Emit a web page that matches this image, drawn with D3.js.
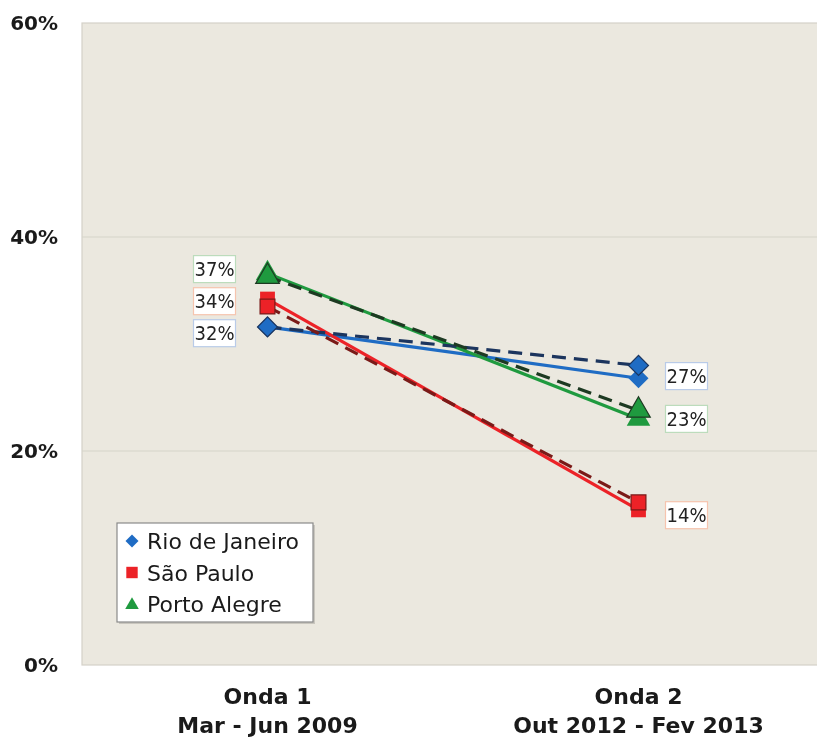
<!DOCTYPE html>
<html><head><meta charset="utf-8">
<script src="https://cdn.jsdelivr.net/npm/d3@7"></script>
<style>html,body{margin:0;padding:0;background:#fff;overflow:hidden;width:817px;height:740px}svg{display:block;position:fixed;left:0;top:0;overflow:visible}</style>
</head><body>
<svg id="c" width="817" height="740"></svg>
<script>
const categories = ["Onda 1", "Onda 2"];
const categorySub = ["Mar - Jun 2009", "Out 2012 - Fev 2013"];
const seriesNames = ["Rio de Janeiro", "São Paulo", "Porto Alegre"];
const rioSolid = [31.6, 26.8];
const rioDashed = [31.6, 28.0];
const spSolid = [34.2, 14.5];
const spDashed = [33.5, 15.2];
const paSolid = [36.6, 23.0];
const paDashed = [36.3, 23.8];
const labelsOnda1 = [37, 34, 32];
const labelsOnda2 = [27, 23, 14];
const yTicks = [0, 20, 40, 60];

const colors = ["#1f6cc4", "#ec2227", "#1f9a3f"];
const darkColors = ["#1c355e", "#7a1a18", "#1d3a22"];
const labelBorders = ["#b9cbe8", "#f6c4ae", "#bcdcbc"];
const shapes = ["diamond", "square", "triangle"];

function symbolPath(kind, size) {
  if (kind === "triangle") return d3.symbol(d3.symbolTriangle, size)();
  return d3.symbol(d3.symbolSquare, size)();
}
function symbolRot(kind) { return kind === "diamond" ? " rotate(45)" : ""; }

const svg = d3.select("#c");
const m = {left: 82, top: 23, bottom: 665};
const plotW = 742;
const x = d3.scaleBand().domain(categories).range([m.left, m.left + plotW]);
const y = d3.scaleLinear().domain([0, 60]).range([m.bottom, m.top]);
const cx = c => x(c) + x.bandwidth() / 2;

svg.append("rect").attr("x", m.left).attr("y", m.top).attr("width", plotW)
  .attr("height", m.bottom - m.top).attr("fill", "#ebe8df").attr("stroke", "#d4d1c8").attr("stroke-width", 1.2);

svg.append("g").selectAll("line").data(yTicks.filter(t => t > 0 && t < 60)).join("line")
  .attr("x1", m.left).attr("x2", m.left + plotW)
  .attr("y1", d => y(d)).attr("y2", d => y(d))
  .attr("stroke", "#d6d3ca").attr("stroke-width", 1.2);

const yAxis = d3.axisLeft(y).tickValues(yTicks).tickFormat(d => d + "%").tickSize(0).tickPadding(24);
const ya = svg.append("g").attr("transform", `translate(${m.left},0)`).call(yAxis);
ya.select(".domain").remove();
ya.selectAll("text").attr("font-family", "DejaVu Sans").attr("font-weight", "bold")
  .attr("font-size", 20).attr("fill", "#1a1a1a");

const xa = svg.append("g");
categories.forEach((c, i) => {
  const t = xa.append("text").attr("x", cx(c)).attr("text-anchor", "middle")
    .attr("font-family", "DejaVu Sans").attr("font-weight", "bold").attr("font-size", 22).attr("fill", "#1a1a1a");
  t.append("tspan").attr("x", cx(c)).attr("y", 704).text(c);
  t.append("tspan").attr("x", cx(c)).attr("y", 733).text(categorySub[i]);
});

const solids = [rioSolid, spSolid, paSolid];
const dashed = [rioDashed, spDashed, paDashed];
const line = d3.line().x((d, i) => cx(categories[i])).y(d => y(d));
const sizes = [200, 220, 240];

solids.forEach((s, k) => {
  svg.append("path").attr("d", line(s)).attr("fill", "none")
    .attr("stroke", colors[k]).attr("stroke-width", 3.2);
});
solids.forEach((s, k) => {
  s.forEach((v, i) => {
    svg.append("path").attr("d", symbolPath(shapes[k], sizes[k]))
      .attr("transform", `translate(${cx(categories[i])},${y(v)})` + symbolRot(shapes[k]))
      .attr("fill", colors[k]);
  });
});
dashed.forEach((s, k) => {
  svg.append("path").attr("d", line(s)).attr("fill", "none")
    .attr("stroke", darkColors[k]).attr("stroke-width", 3.2).attr("stroke-dasharray", "14,8");
});
dashed.forEach((s, k) => {
  s.forEach((v, i) => {
    svg.append("path").attr("d", symbolPath(shapes[k], sizes[k]))
      .attr("transform", `translate(${cx(categories[i])},${y(v)})` + symbolRot(shapes[k]))
      .attr("fill", colors[k]).attr("stroke", darkColors[k]).attr("stroke-width", 1.2);
  });
});

function placeLabels(vals, minGap) {
  const ys = vals.map(v => y(v));
  const order = ys.map((v, i) => i).sort((a, b) => ys[a] - ys[b]);
  for (let j = 1; j < order.length; j++) {
    const p = ys[order[j - 1]], q = ys[order[j]];
    if (q - p < minGap) ys[order[j]] = p + minGap;
  }
  return ys;
}
const l1Series = [2, 1, 0];
const l2Series = [0, 2, 1];
const boxW = 42, boxH = 27;
function drawLabels(vals, ser, catIdx, side) {
  const ys = placeLabels(vals, 32);
  vals.forEach((v, i) => {
    const bx = side < 0 ? cx(categories[catIdx]) - 32 - boxW : cx(categories[catIdx]) + 27;
    const g = svg.append("g");
    g.append("rect").attr("x", bx).attr("y", ys[i] - boxH / 2).attr("width", boxW).attr("height", boxH)
      .attr("fill", "#fff").attr("stroke", labelBorders[ser[i]]).attr("stroke-width", 1.2);
    g.append("text").attr("x", bx + boxW / 2).attr("y", ys[i] + 7).attr("text-anchor", "middle")
      .attr("font-family", "DejaVu Sans Condensed, DejaVu Sans").attr("font-size", 20).attr("fill", "#222")
      .text(v + "%");
  });
}
drawLabels(labelsOnda1, l1Series, 0, -1);
drawLabels(labelsOnda2, l2Series, 1, 1);

const lg = svg.append("g").attr("transform", "translate(117,523)");
lg.append("rect").attr("x", 2).attr("y", 2).attr("width", 196).attr("height", 99).attr("fill", "#c9c6be");
lg.append("rect").attr("width", 196).attr("height", 99).attr("fill", "#fff")
  .attr("stroke", "#8a8a8a").attr("stroke-width", 1.2);
const lsizes = [85, 130, 80];
seriesNames.forEach((n, k) => {
  const ry = 18 + k * 31.5;
  lg.append("path").attr("d", symbolPath(shapes[k], lsizes[k]))
    .attr("transform", `translate(15,${ry + (k === 2 ? 1 : 0)})` + symbolRot(shapes[k])).attr("fill", colors[k]);
  lg.append("text").attr("x", 30).attr("y", ry + 8).attr("font-family", "DejaVu Sans")
    .attr("font-size", 22).attr("fill", "#1a1a1a").text(n);
});
</script>
</body></html>
